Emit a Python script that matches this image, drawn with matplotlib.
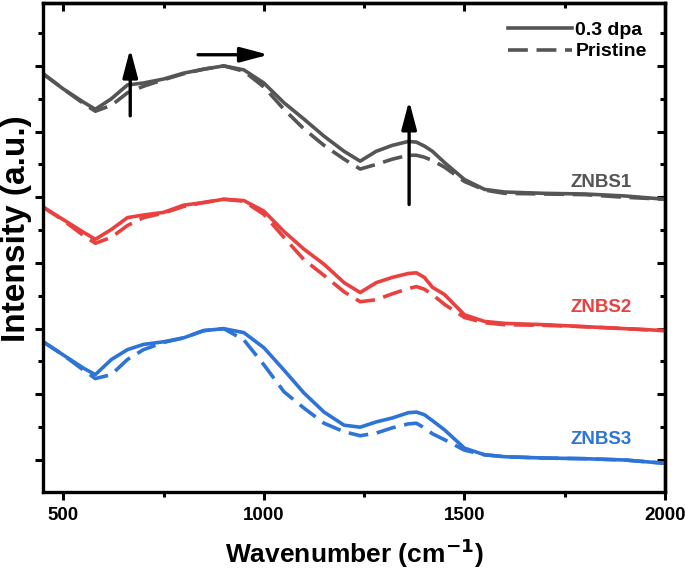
import matplotlib
matplotlib.use('Agg')
import matplotlib.pyplot as plt
from matplotlib.ticker import MultipleLocator, NullFormatter

plt.rcParams['font.family'] = ['Liberation Sans', 'DejaVu Sans']
plt.rcParams['font.weight'] = 'bold'
plt.rcParams['mathtext.default'] = 'bf'

# wavenumber grid (cm-1)
wn = [450, 500, 550, 580, 620, 660, 700, 750, 800, 850, 900, 950, 1000, 1050, 1100,
      1150, 1200, 1240, 1280, 1320, 1360, 1380, 1400, 1420, 1450, 1500, 1550, 1600,
      1700, 1800, 1900, 2000]

# ZNBS1 (offset so that ticks are at integer steps)
znbs1_irr = [5.88, 5.65, 5.45, 5.34, 5.50, 5.71, 5.74, 5.80, 5.89, 5.95, 6.00, 5.94, 5.74, 5.44, 5.19,
             4.93, 4.70, 4.55, 4.70, 4.79, 4.85, 4.84, 4.78, 4.70, 4.53, 4.27, 4.12, 4.08,
             4.06, 4.05, 4.02, 3.97]
znbs1_pri = [5.88, 5.65, 5.43, 5.31, 5.40, 5.59, 5.69, 5.79, 5.88, 5.95, 6.00, 5.92, 5.68, 5.34, 5.04,
             4.79, 4.58, 4.43, 4.50, 4.58, 4.64, 4.64, 4.61, 4.56, 4.46, 4.24, 4.11, 4.06,
             4.05, 4.04, 4.00, 3.97]

# ZNBS2
znbs2_irr = [3.85, 3.66, 3.47, 3.36, 3.51, 3.69, 3.73, 3.77, 3.88, 3.92, 3.97, 3.95, 3.79, 3.48, 3.21,
             2.98, 2.70, 2.55, 2.70, 2.78, 2.84, 2.85, 2.78, 2.63, 2.52, 2.21, 2.11, 2.08,
             2.06, 2.03, 2.00, 1.97]
znbs2_pri = [3.85, 3.65, 3.42, 3.30, 3.39, 3.57, 3.69, 3.76, 3.86, 3.92, 3.97, 3.94, 3.74, 3.39, 3.05,
             2.81, 2.56, 2.41, 2.44, 2.53, 2.61, 2.64, 2.60, 2.52, 2.37, 2.17, 2.09, 2.06,
             2.05, 2.03, 2.00, 1.97]

# ZNBS3
znbs3_irr = [1.80, 1.60, 1.40, 1.30, 1.53, 1.68, 1.76, 1.80, 1.86, 1.97, 2.00, 1.94, 1.71, 1.37, 1.02,
             0.73, 0.53, 0.50, 0.58, 0.64, 0.72, 0.73, 0.69, 0.60, 0.46, 0.18, 0.08, 0.05,
             0.03, 0.02, 0.00, -0.05]
znbs3_pri = [1.80, 1.60, 1.37, 1.24, 1.30, 1.53, 1.68, 1.79, 1.86, 1.97, 2.00, 1.83, 1.45, 1.04, 0.79,
             0.56, 0.43, 0.37, 0.41, 0.49, 0.55, 0.56, 0.49, 0.40, 0.31, 0.15, 0.08, 0.05,
             0.03, 0.02, 0.00, -0.05]

c_gray = '#555555'
c_red = '#e8413f'
c_blue = '#2e73d6'

fig = plt.figure(figsize=(6.85, 5.71), dpi=100)
ax = fig.add_axes([0.063, 0.138, 0.908, 0.857])

lw = 2.6
dash = (0, (5.5, 2.4))
ax.plot(wn, znbs1_irr, color=c_gray, lw=lw, label='0.3 dpa')
ax.plot(wn, znbs1_pri, color=c_gray, lw=lw, ls=dash, label='Pristine')
ax.plot(wn, znbs2_irr, color=c_red, lw=lw)
ax.plot(wn, znbs2_pri, color=c_red, lw=lw, ls=dash)
ax.plot(wn, znbs3_irr, color=c_blue, lw=lw)
ax.plot(wn, znbs3_pri, color=c_blue, lw=lw, ls=dash)

# arrows
arr = dict(arrowstyle='-|>,head_length=1.7,head_width=0.45', color='black', lw=2.4,
           shrinkA=0, shrinkB=0)
ax.annotate('', xy=(667, 6.26), xytext=(667, 5.24), arrowprops=arr)
ax.annotate('', xy=(1012, 6.17), xytext=(836, 6.17), arrowprops=arr)
ax.annotate('', xy=(1362, 5.47), xytext=(1362, 3.89), arrowprops=arr)

# sample labels
ax.text(1840, 4.23, 'ZNBS1', color=c_gray, fontsize=13.5, fontweight='bold', ha='center', va='center')
ax.text(1840, 2.32, 'ZNBS2', color=c_red, fontsize=13.5, fontweight='bold', ha='center', va='center')
ax.text(1840, 0.31, 'ZNBS3', color=c_blue, fontsize=13.5, fontweight='bold', ha='center', va='center')

ax.set_xlim(450, 2000)
ax.set_ylim(-0.49, 6.96)
ax.xaxis.set_major_locator(MultipleLocator(500))
ax.xaxis.set_minor_locator(MultipleLocator(250))
ax.yaxis.set_major_locator(MultipleLocator(1))
ax.yaxis.set_minor_locator(MultipleLocator(0.5))
ax.yaxis.set_major_formatter(NullFormatter())

for s in ax.spines.values():
    s.set_linewidth(2.4)
ax.tick_params(which='both', width=2.2, direction='out')
ax.tick_params(which='major', length=6, labelsize=13.5, pad=5)
ax.tick_params(which='minor', length=3.5)
for lab in ax.get_xticklabels():
    lab.set_fontweight('bold')

# mirrored ticks pointing inwards on top and right
top = ax.secondary_xaxis('top')
top.xaxis.set_major_locator(MultipleLocator(500))
top.xaxis.set_minor_locator(MultipleLocator(250))
top.tick_params(which='both', direction='in', width=2.2, labeltop=False)
top.tick_params(which='major', length=6)
top.tick_params(which='minor', length=3.5)
top.spines['top'].set_linewidth(2.4)
right = ax.secondary_yaxis('right')
right.yaxis.set_major_locator(MultipleLocator(1))
right.yaxis.set_minor_locator(MultipleLocator(0.5))
right.tick_params(which='both', direction='in', width=2.2, labelright=False)
right.tick_params(which='major', length=6)
right.tick_params(which='minor', length=3.5)
right.spines['right'].set_linewidth(2.4)

ax.set_xlabel('Wavenumber (cm$^{-1}$)', fontsize=19, fontweight='bold', labelpad=9)
fig.text(0.0372, 0.6, 'Intensity (a.u.)', rotation=90, rotation_mode='anchor',
         fontsize=24, fontweight='bold', ha='center', va='baseline')

leg = ax.legend(loc='upper right', frameon=False, fontsize=14, handlelength=3.3,
                handletextpad=0.15, borderaxespad=0.55, labelspacing=0.2)
for t in leg.get_texts():
    t.set_fontweight('bold')

fig.savefig('out.png', dpi=100)
